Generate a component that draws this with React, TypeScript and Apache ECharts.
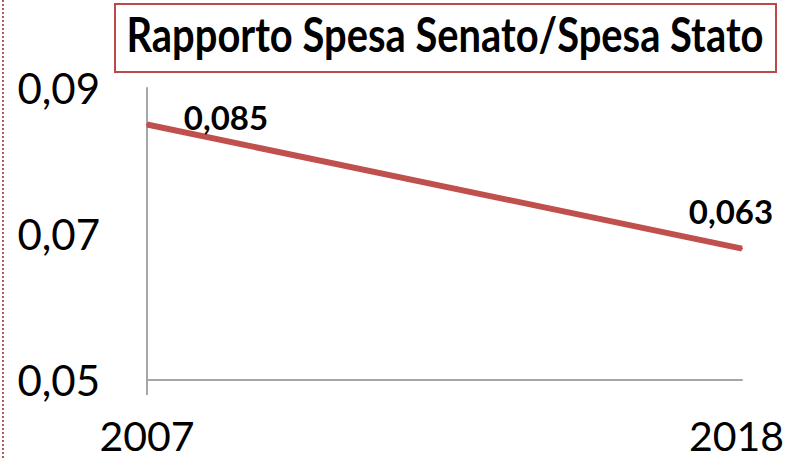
import React, { useEffect, useRef } from "react";
import * as echarts from "echarts";

const years = ["2007", "2018"];
const ratio = [0.085, 0.068];
const pointLabels = ["0,085", "0,063"];
const yMin = 0.05;
const yMax = 0.09;
const yStep = 0.02;
const titleText = "Rapporto Spesa Senato/Spesa Stato";

const RED = "#c0504d";
const AXIS = "#a6a6a6";
const FONT = "Lato";

export default function App() {
  const ref = useRef<HTMLDivElement>(null);
  useEffect(() => {
    if (!ref.current) return;
    const chart = echarts.init(ref.current, null, {
      renderer: "svg",
      width: 788,
      height: 459,
    });
    const titleFont = `bold 47px ${FONT}`;
    let scaleX = 1;
    try {
      const ctx = document.createElement("canvas").getContext("2d");
      if (ctx) {
        ctx.font = titleFont;
        const w = ctx.measureText(titleText).width;
        if (w > 0) scaleX = 637 / w;
      }
    } catch (e) {}
    chart.setOption({
      animation: false,
      backgroundColor: "#ffffff",
      grid: {
        left: 147,
        right: 46,
        top: 88,
        bottom: 79,
        containLabel: false,
        outerBoundsMode: "none",
      },
      xAxis: {
        type: "category",
        data: years.map((y, i) =>
          i === 0
            ? { value: y }
            : { value: y, textStyle: { padding: [0, 11, 0, 0] } }
        ),
        boundaryGap: false,
        axisLine: { show: true, lineStyle: { color: AXIS, width: 2 } },
        axisTick: {
          show: true,
          length: 15,
          interval: (i: number) => i === 0,
          lineStyle: { color: AXIS, width: 2 },
        },
        axisLabel: {
          fontFamily: FONT,
          fontSize: 41,
          lineHeight: 48,
          color: "#000",
          margin: 31,
          interval: 0,
        },
        splitLine: { show: false },
      },
      yAxis: {
        type: "value",
        min: yMin,
        max: yMax,
        interval: yStep,
        axisLine: { show: true, lineStyle: { color: AXIS, width: 2 } },
        axisTick: { show: false },
        splitLine: { show: false },
        axisLabel: {
          fontFamily: FONT,
          fontSize: 42,
          color: "#000",
          margin: 47,
          padding: [0, 0, 10, 0],
          formatter: (v: number) => v.toFixed(2).replace(".", ","),
        },
      },
      series: [
        {
          type: "line",
          data: ratio.map((v, i) => ({
            value: v,
            label: {
              show: true,
              position: "inside",
              offset: i === 0 ? [79, -8] : [-11, -38],
              formatter: () => pointLabels[i],
              fontFamily: FONT,
              fontWeight: "bold",
              fontSize: 33,
              color: "#000",
            },
          })),
          symbol: "circle",
          symbolSize: 2,
          showSymbol: true,
          itemStyle: { color: RED },
          lineStyle: { color: RED, width: 6 },
        },
      ],
      graphic: [
        {
          type: "line",
          shape: { x1: 3, y1: 0, x2: 3, y2: 459 },
          style: { stroke: "#b65a5a", lineWidth: 2, lineDash: [2, 2] },
        },
        {
          type: "rect",
          shape: { x: 115, y: 4, width: 661, height: 68 },
          style: { fill: "#fff", stroke: "#b94a48", lineWidth: 2 },
        },
        {
          type: "text",
          x: 445,
          y: 34,
          scaleX: scaleX,
          style: {
            x: 0,
            y: 0,
            text: titleText,
            font: titleFont,
            fill: "#000",
            textAlign: "center",
            textVerticalAlign: "middle",
          },
        },
      ],
    });
    return () => chart.dispose();
  }, []);
  return (
    <div
      ref={ref}
      style={{ position: "fixed", left: 0, top: 0, width: 788, height: 459 }}
    />
  );
}
